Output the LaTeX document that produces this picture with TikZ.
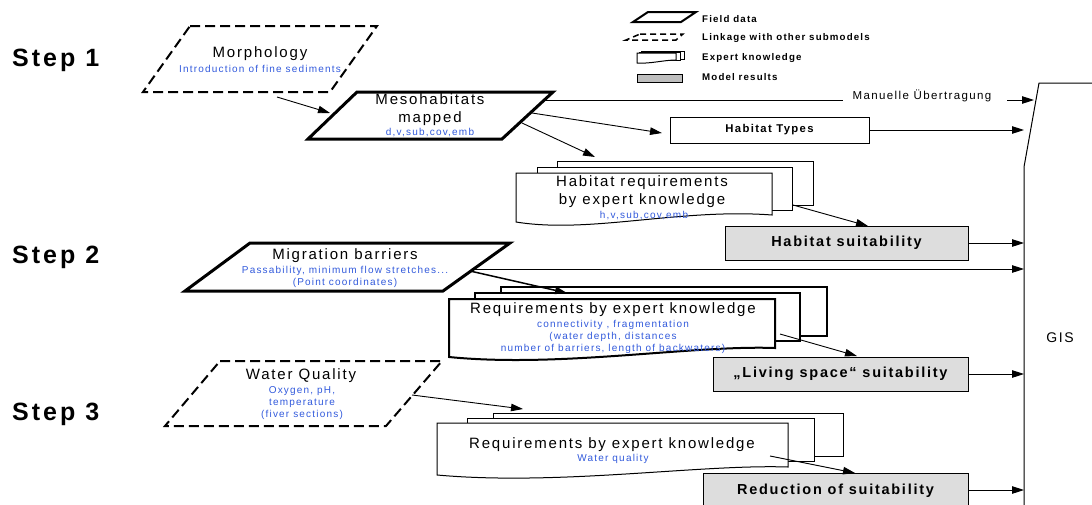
\documentclass[tikz,border=0pt]{standalone}
\usepackage{fontspec}
\setmainfont{Liberation Sans}[LetterSpace=12]
\usetikzlibrary{arrows.meta}
\definecolor{bl}{RGB}{50,90,220}
\definecolor{resgray}{RGB}{221,221,221}
\definecolor{leggray}{RGB}{190,190,190}
\tikzset{
 maintxt/.style={font=\fontsize{15}{18}\selectfont, align=center, inner sep=0pt},
 subtxt/.style={font=\fontsize{10}{12}\selectfont, text=bl, align=center, inner sep=0pt},
 restxt/.style={font=\bfseries\fontsize{14.5}{16}\selectfont},
 legtxt/.style={font=\bfseries\fontsize{9.7}{11}\selectfont, anchor=west, inner sep=0pt},
 steplbl/.style={font=\bfseries\fontsize{25}{28}\selectfont, anchor=west, inner sep=0pt},
 arr/.style={-{Triangle[length=12pt,width=7.5pt]}, line width=0.9pt},
 thickpar/.style={draw, fill=white, line width=3pt, line join=miter},
 dashpar/.style={draw, line width=2pt, dash pattern=on 10pt off 5pt},
 resbox/.style={draw, fill=resgray, line width=1pt, restxt, inner sep=0pt},
 layer/.style={draw, fill=white, line width=1pt},
 layerthick/.style={draw, fill=white, line width=2pt},
}
\begin{document}
\begin{tikzpicture}[x=1pt,y=-1pt]
\useasboundingbox (0,0) rectangle (1092,504);
\clip (0,0) rectangle (1092,504);

% Step labels
\node[steplbl] (s1) at (12,60) {Step 1};
\node[steplbl] (s2) at (12,257) {Step 2};
\node[steplbl] (s3) at (12,414) {Step 3};

% Legend
\draw[line width=2pt, line join=miter] (648,12) -- (696,12) -- (681,22) -- (633,22) -- cycle;
\draw[line width=1.5pt, dash pattern=on 6pt off 4pt] (640,34) -- (683,34) -- (676,40) -- (626,40) -- cycle;
\draw[layer] (641,51) rectangle (684,59);
\draw[layer] (639,52) rectangle (680,60);
\draw[layer] (637,53) -- (676,53) -- (676,60) .. controls (664,60) and (650,64) .. (637,63) -- cycle;
\draw[fill=leggray, line width=1pt] (637,74) rectangle (682,82);
\node[legtxt] (l1) at (702,19) {Field data};
\node[legtxt] (l2) at (702,38) {Linkage with other submodels};
\node[legtxt] (l3) at (702,58) {Expert knowledge};
\node[legtxt] (l4) at (702,77) {Model results};

% GIS
\draw[line width=1pt] (1024,520) -- (1024,167) -- (1039,83) -- (1100,83);
\node[font=\fontsize{14}{16}\selectfont] (gis) at (1060,338) {GIS};

% Morphology
\draw[dashpar] (190,26) -- (377,26) -- (330,92) -- (143,92) -- cycle;
\node[maintxt] (morph) at (260,54) {Morphology};
\node[subtxt] (morphs) at (260,69) {Introduction of fine sediments};

% Mesohabitats
\draw[thickpar] (357,92) -- (553,92) -- (502,139) -- (308,139) -- cycle;
\node[maintxt] (meso) at (430,110) {Mesohabitats\\mapped};
\node[subtxt] (mesos) at (430,133) {d,v,sub,cov,emb};

% Habitat types
\node[draw, line width=1pt, minimum width=199pt, minimum height=26pt, inner sep=0pt,
      font=\bfseries\fontsize{11.3}{12}\selectfont] (ht) at (769.5,130) {Habitat Types};

% Habitat requirement stack
\draw[layer] (557,161) rectangle (813,205);
\draw[layer] (537,167) rectangle (792,210);
\draw[layer] (516,173) -- (772,173) -- (772,215) .. controls (680,208) and (590,234) .. (516,222) -- cycle;
\node[maintxt] (hreq) at (642,192) {Habitat requirements\\by expert knowledge};
\node[subtxt] (hreqs) at (644,216) {h,v,sub,cov,emb};

% Habitat suitability
\node[resbox, minimum width=243pt, minimum height=34pt] (hs) at (846.5,243) {Habitat suitability};

% Migration barriers
\draw[thickpar] (250,243) -- (510,243) -- (443,291) -- (185,291) -- cycle;
\node[maintxt] (mig) at (345,256) {Migration barriers};
\node[subtxt] (migs) at (345,277) {Passability, minimum flow stretches...\\(Point coordinates)};

% Requirements stack 2
\draw[layerthick] (501,287) rectangle (827,336);
\draw[layerthick] (475,293) rectangle (800,341);
\draw[layerthick] (449,299) -- (775,299) -- (775,348) .. controls (690,345) and (560,368) .. (449,357) -- cycle;
\node[maintxt] (req2) at (613,310) {Requirements by expert knowledge};
\node[subtxt] (req2s) at (613,337) {connectivity , fragmentation\\(water depth, distances\\number of barriers, length of backwaters)};

% Living space suitability
\node[resbox, minimum width=255pt, minimum height=34pt] (ls) at (840.5,374) {„Living space“ suitability};

% Water quality
\draw[dashpar] (220,361) -- (442,361) -- (386,426) -- (165,426) -- cycle;
\node[maintxt] (wq) at (301,376) {Water Quality};
\node[subtxt] (wqs) at (302,403) {Oxygen, pH,\\temperature\\(fiver sections)};

% Requirements stack 3
\draw[layer] (493,413) rectangle (843,456);
\draw[layer] (467,418) rectangle (814,461);
\draw[layer] (437,423) -- (788,423) -- (788,467) .. controls (700,464) and (560,486) .. (437,475) -- cycle;
\node[maintxt] (req3) at (612,445) {Requirements by expert knowledge};
\node[subtxt] (req3s) at (613,459) {Water quality};

% Reduction of suitability
\node[resbox, minimum width=265pt, minimum height=36pt] (rs) at (835.5,491) {Reduction of suitability};

% Connector coordinates
\coordinate (a1s) at (277,97);   \coordinate (a1e) at (330,113);
\coordinate (mu1) at (544,100);  \coordinate (mu2) at (843,100);
\coordinate (mu3) at (1007,100); \coordinate (mu4) at (1034,100);
\node[font=\fontsize{11.5}{13}\selectfont, inner sep=0pt] (manu) at (922,96) {Manuelle Übertragung};
\coordinate (a2s) at (532,113);  \coordinate (a2e) at (662,133);
\coordinate (a3s) at (522,123);  \coordinate (a3e) at (595,157);
\coordinate (g1) at (1024,130);
\coordinate (a4s) at (793,205);  \coordinate (a4e) at (868,226);
\coordinate (g2) at (1024,243);
\coordinate (mgs) at (475,269);  \coordinate (g3) at (1024,269);
\coordinate (a5s) at (470,271);  \coordinate (a5e) at (567,293);
\coordinate (a6s) at (780,334);  \coordinate (a6e) at (857,356);
\coordinate (g4) at (1024,374);
\coordinate (a7s) at (412,395);  \coordinate (a7e) at (523,409);
\coordinate (a8s) at (770,456);  \coordinate (a8e) at (855,473);
\coordinate (g5) at (1024,490);

\draw[arr] (a1s) -- (a1e);
\draw[line width=0.9pt] (mu1) -- (mu2);
\draw[arr] (mu3) -- (mu4);
\draw[arr] (a2s) -- (a2e);
\draw[arr] (a3s) -- (a3e);
\draw[arr] (ht.east) -- (g1);
\draw[arr] (a4s) -- (a4e);
\draw[arr] (hs.east) -- (g2);
\draw[arr] (mgs) -- (g3);
\draw[arr, line width=1.5pt] (a5s) -- (a5e);
\draw[arr] (a6s) -- (a6e);
\draw[arr] (ls.east) -- (g4);
\draw[arr] (a7s) -- (a7e);
\draw[arr] (a8s) -- (a8e);
\draw[arr] (rs.east |- g5) -- (g5);
\end{tikzpicture}
\end{document}
